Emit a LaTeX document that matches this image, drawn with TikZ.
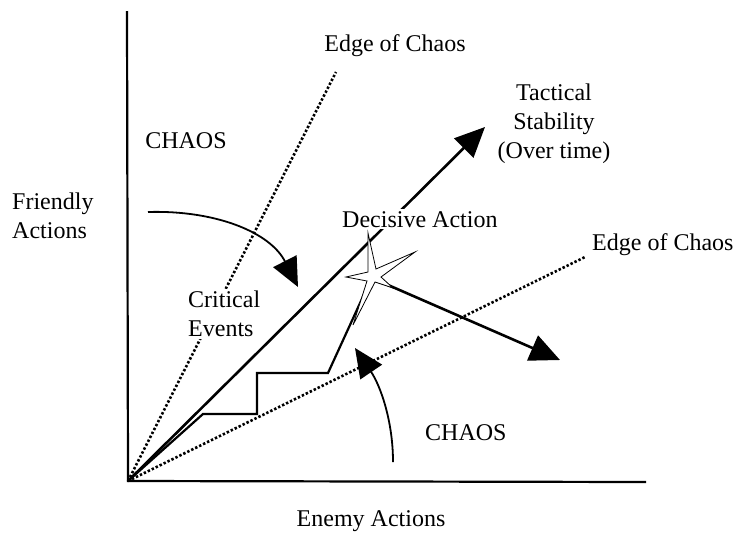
\documentclass[tikz,border=0pt]{standalone}
\usepackage{fontspec}
\setmainfont{Liberation Serif}
\usetikzlibrary{arrows.meta}

\begin{document}
\begin{tikzpicture}[x=1pt,y=-1pt,font=\fontsize{24}{29}\selectfont]
\tikzset{edge/.style={line width=2.6pt,dash pattern=on 2.4pt off 2pt},
  bigarrow/.style={-{Triangle[length=30pt,width=27pt]}},
  curvearrow/.style={line width=1.8pt,-{Triangle[length=29pt,width=26pt]}},
  lbl/.style={inner sep=0pt,align=left},
  masklbl/.style={lbl,fill=white,inner sep=2pt}}
\useasboundingbox (0,0) rectangle (743,536);
\coordinate (O) at (128,481);
% axes
\draw[line width=2.2pt] (127,11) -- (O) -- (646,482);
% edges of chaos
\coordinate (E1) at (336,72);
\coordinate (E2) at (585,257);
\draw[edge] (O) -- (E1);
\draw[edge] (O) -- (E2);
% tactical stability
\coordinate (T) at (485,127);
\draw[line width=2.6pt,bigarrow] (O) -- (T);
% critical events path
\coordinate (S) at (372,278);
\draw[line width=2.2pt,line join=miter] (O) -- (203,414) -- (257,414) -- (257,373) -- (328,373) -- (366,290);
\coordinate (D) at (560,360);
\draw[line width=2.6pt,bigarrow] (S) -- (D);
% the star
\draw[fill=white,line width=0.8pt] (S) ++(-4,-45) -- ++(8,36) -- ++(39,-17) -- ++(-34,25)
  -- ++(12,11) -- ++(-18,-6) -- ++(-22,43) -- ++(14,-44) -- ++(-21,-4) -- ++(22,-5) -- cycle;
% curved arrows
\coordinate (C1) at (148,212);
\coordinate (C1e) at (298,287);
\draw[curvearrow] (C1) .. controls (215,210) and (270,232) .. (C1e);
\coordinate (C2) at (393,462);
\coordinate (C2e) at (355,348);
\draw[curvearrow] (C2) .. controls (393,420) and (380,385) .. (C2e);
% labels
\node[lbl] (edgetop) at (395,46) {Edge of Chaos};
\node[lbl] (chaostop) at (186,141) {CHAOS};
\node[lbl,anchor=west] (friendly) at (12,216) {Friendly\\Actions};
\node[masklbl,anchor=base west] (decisive) at (340,227) {Decisive Action};
\node[lbl,align=center] (tactical) at (554,124) {Tactical\\Stability\\(Over time)};
\node[lbl,anchor=base west] (edgeright) at (592,250) {Edge of Chaos};
\node[masklbl,anchor=west] (critical) at (186,314) {Critical\\Events};
\node[lbl,anchor=west] (chaosbot) at (425,433) {CHAOS};
\node[lbl] (enemy) at (371,521) {Enemy Actions};
\end{tikzpicture}
\end{document}
